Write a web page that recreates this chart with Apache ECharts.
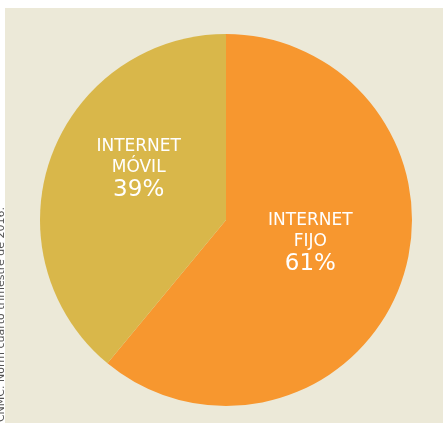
<!DOCTYPE html>
<html><head><meta charset="utf-8">
<script src="https://cdn.jsdelivr.net/npm/echarts@6/dist/echarts.min.js"></script>
<style>html,body{margin:0;padding:0;background:#fff;}#c{width:443px;height:423px;}</style>
</head><body><div id="c"></div>
<script>
const categories = ['INTERNET\nFIJO', 'INTERNET\nMÓVIL'];
const values = [61, 39];
const colors = ['#F7972F', '#D9B74A'];
const sourceNote = 'Fuente: CNMC. Norm cuarto trimestre de 2016.';

const chart = echarts.init(document.getElementById('c'));
chart.setOption({
  backgroundColor: '#ffffff',
  animation: false,
  graphic: [
    { type: 'rect', left: 5, top: 8, shape: { width: 438, height: 415 }, style: { fill: '#ECE9D8' }, z: -10 },
    { type: 'text', x: 7, y: 207, rotation: Math.PI / 2, style: { text: sourceNote, fill: '#555', font: '11px "DejaVu Sans"', textAlign: 'right', textVerticalAlign: 'bottom' } }
  ],
  series: [{
    type: 'pie',
    center: [226, 220],
    radius: [0, 186],
    startAngle: 90,
    clockwise: true,
    silent: true,
    data: categories.map((c, i) => ({ name: c, value: values[i], itemStyle: { color: colors[i] } })),
    label: {
      position: 'inside',
      formatter: p => '{a|' + p.name.split('\n').join('}\n{a|') + '}\n{b|' + p.value + '%}',
      color: '#fff',
      rich: {
        a: { fontFamily: 'DejaVu Sans', fontSize: 17, color: '#fff', lineHeight: 21 },
        b: { fontFamily: 'DejaVu Sans', fontSize: 23, color: '#fff', lineHeight: 25 }
      }
    },
    labelLine: { show: false },
    labelLayout: p => (p.dataIndex === 0 ? { dx: -6, dy: -9 } : { dx: 3, dy: -18 })
  }]
});
</script></body></html>
